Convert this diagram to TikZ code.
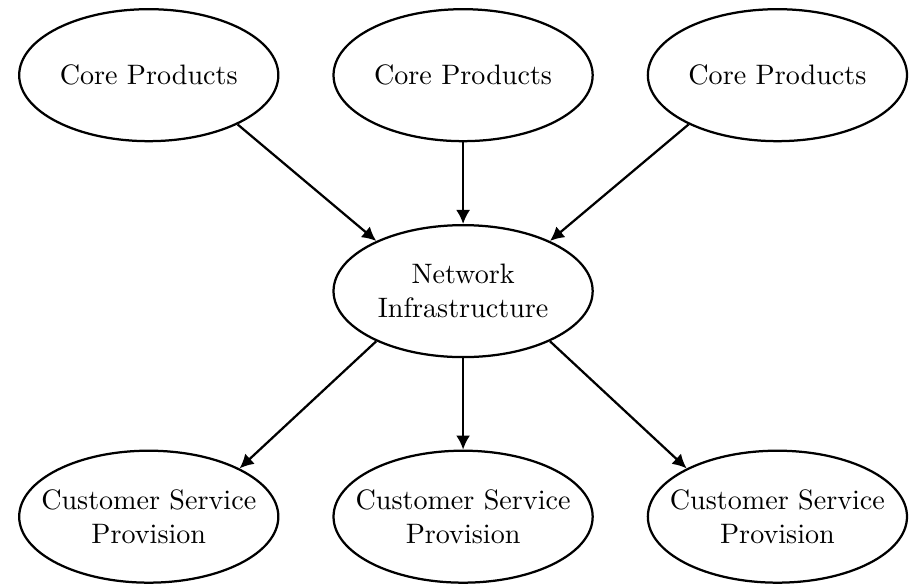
\documentclass[tikz,border=0pt]{standalone}
\usetikzlibrary{shapes.geometric,arrows.meta}

\tikzset{
  blob/.style={draw, thick, ellipse, minimum width=3.24cm, minimum height=1.65cm, inner sep=0pt},
  flow/.style={-{Latex[length=5pt,width=5pt]}, thick}
}

\begin{document}
\begin{tikzpicture}
      \useasboundingbox (-5.79,-3.67) rectangle (5.70,3.64);

      % Prodotti principali
      \node[blob, label={center:Core Products}] (core1) at (-3.93,2.70) {};
      \node[blob, label={center:Core Products}] (core2) at (0,2.70) {};
      \node[blob, label={center:Core Products}] (core3) at (3.93,2.70) {};

      % Infrastruttura di rete
      \node[blob, label={[align=center]center:Network\\Infrastructure}] (net) at (0,0) {};

      % Servizi al cliente
      \node[blob, label={[align=center]center:Customer Service\\Provision}] (serv1) at (-3.93,-2.82) {};
      \node[blob, label={[align=center]center:Customer Service\\Provision}] (serv2) at (0,-2.82) {};
      \node[blob, label={[align=center]center:Customer Service\\Provision}] (serv3) at (3.93,-2.82) {};

      % Frecce
      \draw[flow] (core1.-29) -- (net.150);
      \draw[flow] (core2.south) -- (net.north);
      \draw[flow] (core3.-151) -- (net.30);
      \draw[flow] (net.-150) -- (serv1.28);
      \draw[flow] (net.south) -- (serv2.north);
      \draw[flow] (net.-30) -- (serv3.152);
    \end{tikzpicture}
\end{document}
